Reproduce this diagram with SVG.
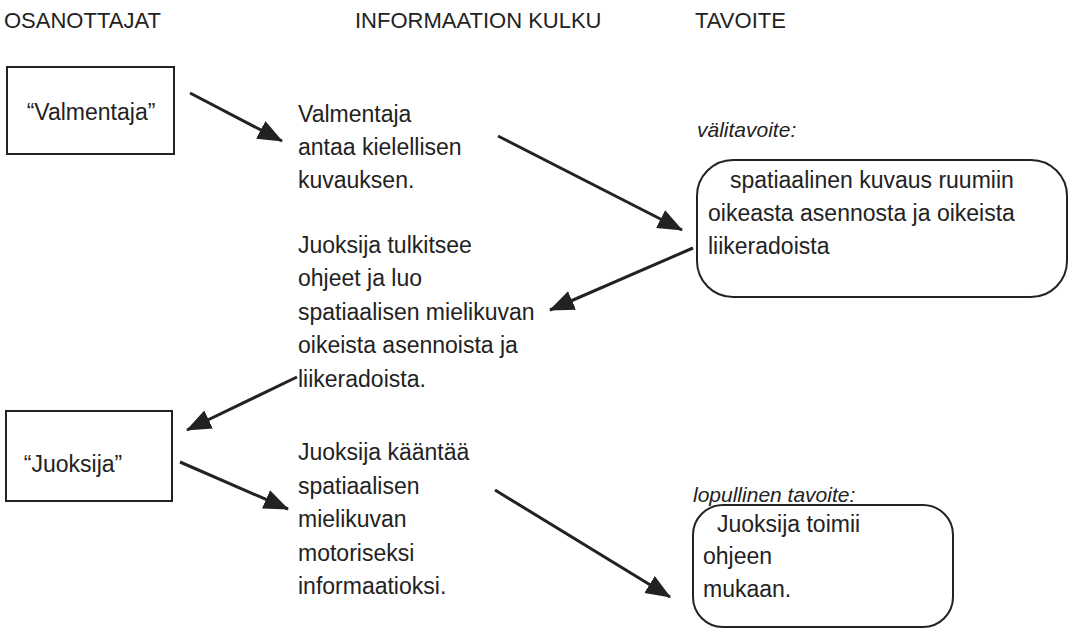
<svg xmlns="http://www.w3.org/2000/svg" width="1073" height="632" viewBox="0 0 1073 632">
<style>
text{font-family:"Liberation Sans",Arial,sans-serif;fill:#222;font-size:23px}
.h{font-size:22px}
.i{font-style:italic;font-size:21px}
.box{fill:none;stroke:#222;stroke-width:2}
.c{stroke:#222;stroke-width:3;fill:none}
</style>
<defs>
<marker id="ah" markerUnits="userSpaceOnUse" markerWidth="26" markerHeight="22" refX="24" refY="11" orient="auto">
<path d="M0,1 L25,11 L0,21 z" fill="#222"/>
</marker>
</defs>
<g id="headers">
<text class="h" x="4" y="28">OSANOTTAJAT</text>
<text class="h" x="355" y="28">INFORMAATION KULKU</text>
<text class="h" x="695" y="28">TAVOITE</text>
</g>
<g id="valmentaja">
<rect class="box" x="7" y="67" width="167" height="87"/>
<text x="91" y="120" text-anchor="middle">“Valmentaja”</text>
</g>
<g id="juoksija">
<rect class="box" x="6" y="411" width="166" height="90"/>
<text x="73" y="472" text-anchor="middle">“Juoksija”</text>
</g>
<g id="info1">
<text x="298" y="122">Valmentaja</text>
<text x="298" y="155">antaa kielellisen</text>
<text x="298" y="188">kuvauksen.</text>
</g>
<g id="info2">
<text x="298" y="253">Juoksija tulkitsee</text>
<text x="298" y="286">ohjeet ja luo</text>
<text x="298" y="320">spatiaalisen mielikuvan</text>
<text x="298" y="353">oikeista asennoista ja</text>
<text x="298" y="387">liikeradoista.</text>
</g>
<g id="info3">
<text x="298" y="460">Juoksija kääntää</text>
<text x="298" y="494">spatiaalisen</text>
<text x="298" y="527">mielikuvan</text>
<text x="298" y="561">motoriseksi</text>
<text x="298" y="594">informaatioksi.</text>
</g>
<g id="valitavoite">
<text class="i" x="697" y="137">välitavoite:</text>
<rect class="box" x="697" y="160" width="370" height="137" rx="36" ry="36"/>
<text x="730" y="188">spatiaalinen kuvaus ruumiin</text>
<text x="708" y="221">oikeasta asennosta ja oikeista</text>
<text x="708" y="254">liikeradoista</text>
</g>
<g id="lopullinen">
<text class="i" x="693" y="502">lopullinen tavoite:</text>
<rect class="box" x="693" y="505" width="260" height="122" rx="30" ry="30"/>
<text x="717" y="532">Juoksija toimii</text>
<text x="703" y="564">ohjeen</text>
<text x="703" y="597">mukaan.</text>
</g>
<g id="connectors">
<line class="c" x1="190" y1="93" x2="282" y2="141" marker-end="url(#ah)"/>
<line class="c" x1="498" y1="136" x2="682" y2="230" marker-end="url(#ah)"/>
<line class="c" x1="693" y1="248" x2="550" y2="310" marker-end="url(#ah)"/>
<line class="c" x1="297" y1="377" x2="187" y2="430" marker-end="url(#ah)"/>
<line class="c" x1="180" y1="462" x2="288" y2="509" marker-end="url(#ah)"/>
<line class="c" x1="495" y1="490" x2="670" y2="597" marker-end="url(#ah)"/>
</g>
</svg>
